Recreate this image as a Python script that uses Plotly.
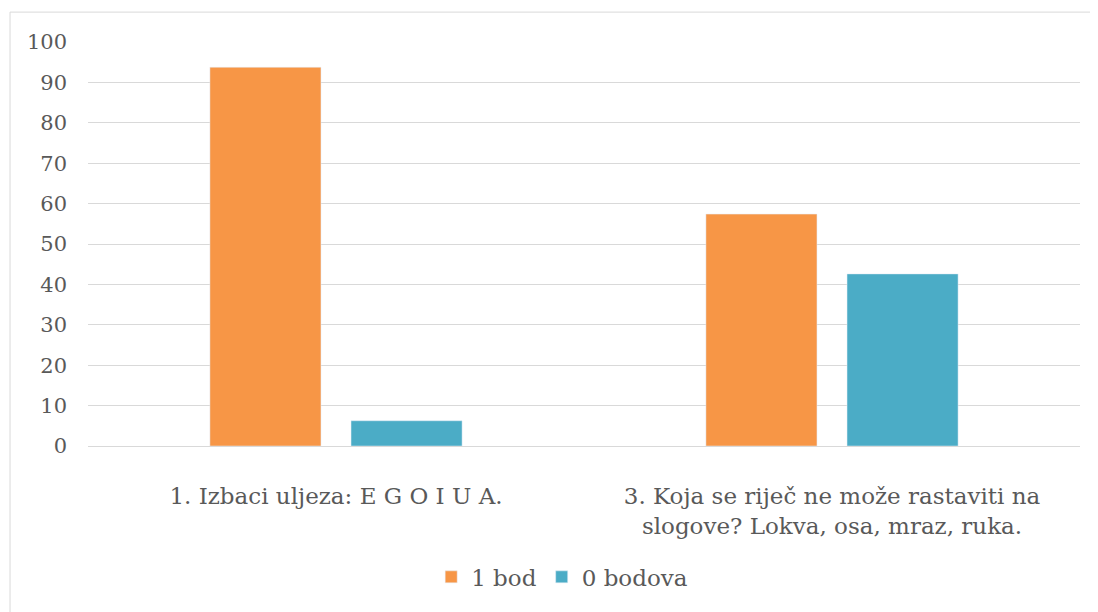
import plotly.graph_objects as go

# categories and values
categories = [
    "1. Izbaci uljeza: E G O I U A.",
    "3. Koja se riječ ne može rastaviti na<br>slogove? Lokva, osa, mraz, ruka.",
]
jedan_bod = [93.75, 57.4]
nula_bodova = [6.25, 42.6]
y_ticks = list(range(0, 101, 10))

FONT = "DejaVu Serif"
TEXT = "#595959"
GRID = "#D9D9D9"

fig = go.Figure()
fig.add_trace(go.Bar(x=categories, y=jedan_bod, name="1 bod", marker_color="#F79646"))
fig.add_trace(go.Bar(x=categories, y=nula_bodova, name="0 bodova", marker_color="#4BACC6"))

fig.update_layout(
    width=1098,
    height=612,
    margin=dict(l=80, r=26, t=34, b=174),
    paper_bgcolor="white",
    plot_bgcolor="white",
    barmode="group",
    bargap=0.431,
    bargroupgap=0.213,
    font=dict(family=FONT, size=20, color=TEXT),
    showlegend=True,
    legend=dict(
        orientation="h",
        x=0.478,
        xanchor="center",
        y=-0.324,
        yanchor="middle",
        font=dict(size=23, color=TEXT),
        itemwidth=30,
        traceorder="normal",
    ),
    # light frame around the whole chart
    shapes=[
        dict(
            type="rect",
            xref="paper",
            yref="paper",
            x0=-0.0786,
            x1=1.06,
            y0=-0.45,
            y1=1.074,
            line=dict(color=GRID, width=1),
            fillcolor="rgba(0,0,0,0)",
            layer="below",
        )
    ],
)

fig.update_yaxes(
    range=[0, 100],
    tickvals=y_ticks,
    gridcolor=GRID,
    gridwidth=1,
    zeroline=True,
    zerolinecolor=GRID,
    zerolinewidth=1,
    showline=False,
    ticks="",
    ticklabelstandoff=20,
    tickfont=dict(size=21, color=TEXT),
)
fig.update_xaxes(
    showline=False,
    ticks="",
    ticklabelstandoff=34,
    tickfont=dict(size=23, color=TEXT),
)

fig.write_html("out.html")
